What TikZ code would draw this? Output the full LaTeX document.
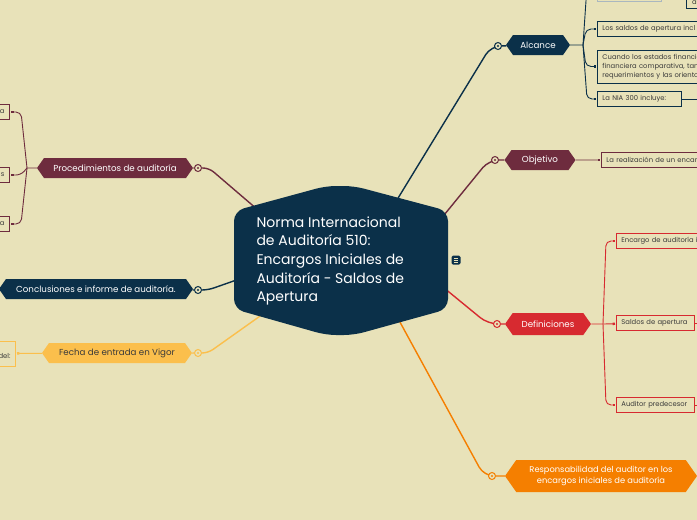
\documentclass[tikz,border=0pt]{standalone}
\usepackage{fontspec}
\setmainfont{Poppins}
\usetikzlibrary{shapes.symbols,arrows.meta,backgrounds}

\definecolor{bgc}{HTML}{E8E2B9}
\definecolor{navy}{HTML}{0B3049}
\definecolor{maroon}{HTML}{6E2C3E}
\definecolor{rojo}{HTML}{D72A30}
\definecolor{naranja}{HTML}{F57F00}
\definecolor{amarillo}{HTML}{FBBF4C}
\definecolor{txt}{HTML}{3A3A3A}

\pgfdeclarelayer{bg}
\pgfsetlayers{bg,background,main}

\tikzset{
  topic/.style={signal, signal to=west and east, signal pointer angle=110,
    fill=#1, text=white, font=\fontsize{8.7}{10}\selectfont,
    minimum height=20pt, inner sep=0pt},
  knob/.style={circle, draw=#1, fill=bgc, line width=1pt, minimum size=7pt,
    inner sep=0pt, path picture={\fill[#1] (path picture bounding box.center) circle (1.2pt);}},
  leaf/.style={draw=#1, line width=0.9pt, fill=bgc, text=txt,
    font=\fontsize{6.8}{9}\selectfont, minimum height=15pt,
    inner xsep=5pt, inner ysep=0pt, anchor=west},
  link/.style={draw=#1, line width=1.4pt, rounded corners=10pt},
  twig/.style={draw=#1, line width=0.9pt, rounded corners=5pt, shorten >=1pt,
    -{Square[length=2.4pt,width=2.4pt]}},
}

\begin{document}
\begin{tikzpicture}[x=1pt,y=-1pt]
\useasboundingbox (0,0) rectangle (697,520);
\begin{pgfonlayer}{bg}
  \fill[bgc] (0,0) rectangle (697,520);
\end{pgfonlayer}

% central topic
\fill[navy, rounded corners=10pt] (234,211) -- (326,186) -- (354,186) -- (448,211)
  -- (448,309) -- (354,335) -- (326,335) -- (234,309) -- cycle;
\node[anchor=west, align=left, text=white, font=\fontsize{14}{18.7}\selectfont] (main) at (253,261)
  {Norma Internacional\\de Auditoría 510:\\Encargos Iniciales de\\Auditoría - Saldos de\\Apertura};
\node[fill=navy, rounded corners=1.5pt, minimum size=9pt, inner sep=0pt,
  path picture={\foreach \k in {-2,0,2}
    \draw[bgc, line width=0.6pt] ([xshift=-2.3pt,yshift=\k pt]path picture bounding box.center)
      -- ++(4.6pt,0);}] (note) at (456,260) {};

\coordinate (mA) at (392,208);
\coordinate (mO) at (440,220);
\coordinate (mD) at (438,283);
\coordinate (mR) at (395,313);
\coordinate (mP) at (265,216);
\coordinate (mC) at (245,277);
\coordinate (mF) at (270,309);

% main topics
\node[topic=navy, minimum width=64pt] (alc) at (538,45) {Alcance};
\node[knob=navy] (alcK) at (498,46) {};
\node[topic=maroon, minimum width=71pt] (obj) at (540,160) {Objetivo};
\node[knob=maroon] (objK) at (495,160) {};
\node[topic=rojo, minimum width=86pt, minimum height=22pt] (def) at (548,324) {Definiciones};
\node[knob=rojo] (defK) at (497,324) {};
\node[topic=naranja, minimum width=192pt, minimum height=32pt, align=center,
  font=\fontsize{8.3}{11}\selectfont] (resp) at (601,476)
  {Responsabilidad del auditor en los\\encargos iniciales de auditoría};
\node[knob=naranja] (respK) at (492,476) {};
\node[topic=maroon, minimum width=156pt] (proc) at (115,168) {Procedimientos de auditoría};
\node[knob=maroon] (procK) at (198,168) {};
\node[topic=navy, minimum width=194pt] (concl) at (96,289) {Conclusiones e informe de auditoría.};
\node[knob=navy] (conclK) at (198,290) {};
\node[topic=amarillo, text=txt, minimum width=150pt] (fecha) at (117,353) {Fecha de entrada en Vigor};
\node[knob=amarillo] (fechaK) at (198,353) {};

% subtopics
\node[leaf=navy!35, minimum width=64pt, minimum height=30pt] (a0) at (597,-14) {};
\node[leaf=navy, minimum width=16pt, minimum height=10pt] (a0b) at (686,3) {a};
\node[leaf=navy, text width=120pt, align=left] (a1) at (597,29) {Los saldos de apertura incl};
\node[leaf=navy, text width=120pt, align=left, minimum height=33pt] (a2) at (597,66.5)
  {Cuando los estados financie\\financiera comparativa, tan\\requerimientos y las oriento};
\node[leaf=navy, text width=74pt, align=left] (a3) at (597,99) {La NIA 300 incluye:};
\coordinate (a3o) at (700,99);

\node[leaf=maroon, text width=120pt, align=left] (o1) at (601,160) {La realización de un encar};

\node[leaf=rojo, text width=120pt, align=left] (d1) at (616,241) {Encargo de auditoría i};
\node[leaf=rojo, text width=68pt, align=left] (d2) at (616,323) {Saldos de apertura};
\node[leaf=rojo, text width=68pt, align=left] (d3) at (616,405) {Auditor predecesor};
\coordinate (d2o) at (700,323);
\coordinate (d3o) at (700,405);

\node[leaf=maroon, anchor=east, text width=40pt, align=right] (p1) at (10,112) {a};
\node[leaf=maroon, anchor=east, text width=40pt, align=right] (p2) at (10,175) {s};
\node[leaf=maroon, anchor=east, text width=40pt, align=right] (p3) at (10,224) {a};

\node[leaf=amarillo, anchor=east, text width=40pt, align=right, text height=14pt,
  text depth=4pt, inner ysep=3.5pt] (f1) at (16,353.5) {del:};

\coordinate (alcJ) at (583,45);
\coordinate (defJ) at (603,324);
\coordinate (procJ) at (27,168);

\begin{pgfonlayer}{background}
  \draw[link=navy] (mA) -- (491,46) -- (alcK);
  \draw[link=maroon] (mO) -- (489,160) -- (objK);
  \draw[link=rojo] (mD) -- (488,324) -- (defK);
  \draw[link=naranja] (mR) -- (484,476) -- (respK);
  \draw[link=maroon, rounded corners=6pt] (mP) -- (209,168) -- (procK);
  \draw[link=navy, rounded corners=6pt] (mC) -- (208,290) -- (conclK);
  \draw[link=amarillo, rounded corners=6pt] (mF) -- (208,353) -- (fechaK);

  \draw[navy, line width=1.4pt] (alcK) -- (alc);
  \draw[maroon, line width=1.4pt] (objK) -- (obj);
  \draw[rojo, line width=1.4pt] (defK) -- (def);
  \draw[naranja, line width=1.4pt] (respK) -- (resp);
  \draw[maroon, line width=1.4pt] (procK) -- (proc);
  \draw[navy, line width=1.4pt] (conclK) -- (concl);
  \draw[amarillo, line width=1.4pt] (fechaK) -- (fecha);

  \draw[navy, line width=0.9pt] (alc) -- (alcJ);
  \draw[twig=navy] (alcJ) -- (587,-14) -- (a0);
  \draw[twig=navy] (alcJ) -- (586,29) -- (a1);
  \draw[twig=navy] (alcJ) -- (586,66.5) -- (a2);
  \draw[twig=navy] (alcJ) -- (587,99) -- (a3);
  \draw[navy, line width=0.9pt] (a3) -- (a3o);

  \draw[twig=maroon] (obj) -- (o1);

  \draw[rojo, line width=0.9pt] (def) -- (defJ);
  \draw[twig=rojo] (defJ) -- (606,241) -- (d1);
  \draw[twig=rojo] (defJ) -- (d2);
  \draw[twig=rojo] (defJ) -- (606,405) -- (d3);
  \draw[rojo, line width=0.9pt] (d2) -- (d2o);
  \draw[rojo, line width=0.9pt] (d3) -- (d3o);

  \draw[maroon, line width=0.9pt] (proc) -- (procJ);
  \draw[twig=maroon] (procJ) -- (21,112) -- (p1);
  \draw[twig=maroon] (procJ) -- (21,175) -- (p2);
  \draw[twig=maroon] (procJ) -- (21,224) -- (p3);

  \draw[twig=amarillo] (fecha) -- (f1);
\end{pgfonlayer}
\end{tikzpicture}
\end{document}
